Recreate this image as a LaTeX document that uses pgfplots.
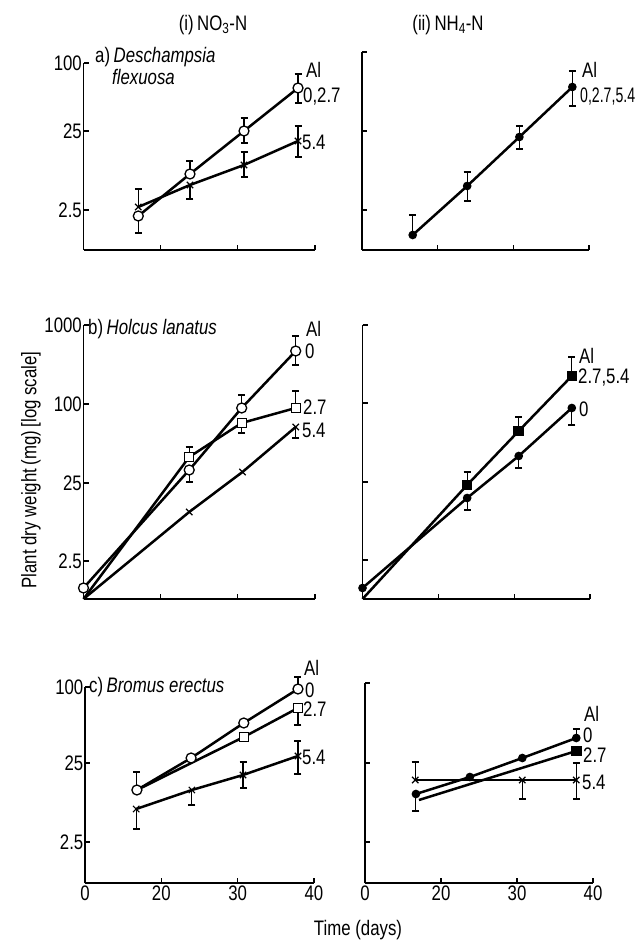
\documentclass[border=0pt]{standalone}
\usepackage{fontspec}
\setmainfont{Liberation Sans}[FakeStretch=0.8]
\usepackage{pgfplots}
\pgfplotsset{compat=1.18}
\pgfplotsset{
  panel/.style={
    scale only axis, clip=false, anchor=south west,
    axis x line*=bottom, axis y line*=left,
    axis line style={line width=1.3pt, -},
    tick align=inside, major tick length=5pt,
    tick style={line width=1.1pt, black},
    xmin=0, xmax=3, ymin=0,
    xtick={0,1,2,3}, xticklabels={}, yticklabels={},
    yticklabel style={inner sep=1.5pt},
    xticklabel style={inner sep=3pt},
  },
  ser/.style={black, line width=2.5pt},
  mO/.style={mark=*, mark size=5pt, mark options={fill=white, draw=black, line width=1.3pt}},
  mS/.style={mark=square*, mark size=4.5pt, mark options={fill=white, draw=black, line width=1.3pt}},
  mX/.style={mark=x, mark size=4.5pt, mark options={line width=1.2pt}},
  mD/.style={mark=*, mark size=3pt, mark options={fill=black}},
  mQ/.style={mark=square*, mark size=4pt, mark options={fill=black}},
  eb/.style={forget plot, draw=none, mark=none,
    error bars/y dir=#1, error bars/y explicit,
    error bars/error bar style={line width=1.1pt, black, solid},
    error bars/error mark options={line width=1.1pt, mark size=3.5pt, rotate=90}},
}
\begin{document}
\fontsize{21}{25}\selectfont
\begin{tikzpicture}[font=\fontsize{21}{25}\selectfont]
\path[use as bounding box] (0,0) rectangle (642pt,941pt);

% ---------- a) left: NO3 ----------
\begin{axis}[panel, at={(83.5pt,691pt)}, width=231.5pt, height=187pt, ymax=187,
  ytick={40,119,187}, yticklabels={2.5,25,100}]
\addplot[eb=plus] coordinates {(1.38,76) +- (0,13) (2.08,119) +- (0,13) (2.78,162) +- (0,14)
  (0.71,43) +- (0,18) (2.08,85) +- (0,13) (2.78,109) +- (0,15)};
\addplot[eb=minus] coordinates {(0.71,34) +- (0,17) (2.08,119) +- (0,12) (2.78,162) +- (0,15)
  (1.38,65) +- (0,14) (2.08,85) +- (0,12) (2.78,109) +- (0,16)};
\addplot[ser, mX] coordinates {(0.71,43) (1.38,65) (2.08,85) (2.78,109)};
\addplot[ser, mO] coordinates {(0.71,34) (1.38,76) (2.08,119) (2.78,162)};
\end{axis}

% ---------- a) right: NH4 ----------
\begin{axis}[panel, at={(362pt,691pt)}, width=227pt, height=198pt, ymax=198,
  ytick={40,119,198}]
\addplot[eb=plus] coordinates {(0.67,15) +- (0,20) (1.39,64) +- (0,14) (2.08,113) +- (0,11) (2.78,163) +- (0,16)};
\addplot[eb=minus] coordinates {(1.39,64) +- (0,15) (2.08,113) +- (0,12) (2.78,163) +- (0,19)};
\addplot[ser, mD] coordinates {(0.67,15) (1.39,64) (2.08,113) (2.78,163)};
\end{axis}

% ---------- b) left ----------
\begin{axis}[panel, at={(83.5pt,342pt)}, width=231.5pt, height=274pt, ymax=274,
  ytick={38,116,195,274}, yticklabels={2.5,25,100,1000}]
\addplot[eb=plus] coordinates {(2.05,191) +- (0,13) (2.75,248) +- (0,15)
  (1.37,142) +- (0,10) (2.75,191) +- (0,17)};
\addplot[eb=minus] coordinates {(1.37,129) +- (0,12) (2.75,248) +- (0,14)
  (2.05,176) +- (0,10) (2.75,172) +- (0,11)};
\addplot[ser, mX, mark indices={2,3,4}] coordinates {(0,0) (1.37,87) (2.06,127) (2.75,172)};
\addplot[ser, mS, mark indices={2,3,4}] coordinates {(0,0) (1.37,142) (2.05,176) (2.75,191)};
\addplot[ser, mO] coordinates {(0,11) (1.37,129) (2.05,191) (2.75,248)};
\end{axis}

% ---------- b) right ----------
\begin{axis}[panel, at={(362.5pt,342pt)}, width=227.5pt, height=274pt, ymax=274,
  ytick={39,117,196,274}]
\addplot[eb=plus] coordinates {(1.38,114) +- (0,13) (2.06,168) +- (0,14) (2.76,223) +- (0,19)};
\addplot[eb=minus] coordinates {(1.38,101) +- (0,12) (2.06,143) +- (0,12) (2.76,191) +- (0,17)};
\addplot[ser, mD] coordinates {(0,11) (1.38,101) (2.06,143) (2.76,191)};
\addplot[ser, mQ, mark indices={2,3,4}] coordinates {(0,0) (1.38,114) (2.06,168) (2.76,223)};
\end{axis}

% ---------- c) left ----------
\begin{axis}[panel, at={(85pt,58pt)}, width=229pt, height=196pt, ymax=196,
  ytick={41,120,196}, yticklabels={2.5,25,100}, xticklabels={0,20,30,40}]
\addplot[eb=plus] coordinates {(0.68,93) +- (0,18) (2.79,194) +- (0,12)
  (2.07,108) +- (0,13) (2.79,127) +- (0,15)};
\addplot[eb=minus] coordinates {(2.79,175) +- (0,17)
  (0.67,74) +- (0,20) (1.40,93) +- (0,15) (2.07,108) +- (0,13) (2.79,127) +- (0,18)};
\addplot[ser, mX] coordinates {(0.67,74) (1.40,93) (2.07,108) (2.79,127)};
\addplot[ser, mS, mark indices={2,3}] coordinates {(0.68,93) (2.08,146) (2.79,175)};
\addplot[ser, mO] coordinates {(0.68,93) (1.39,125) (2.08,160) (2.79,194)};
\end{axis}

% ---------- c) right ----------
\begin{axis}[panel, at={(365pt,58pt)}, width=228pt, height=200pt, ymax=200,
  ytick={41,120,200}, xticklabels={0,20,30,40}]
\addplot[eb=plus] coordinates {(2.78,145) +- (0,9) (0.66,103) +- (0,18) (2.78,103) +- (0,17)};
\addplot[eb=minus] coordinates {(0.67,89) +- (0,17) (2.07,103) +- (0,19) (2.78,103) +- (0,19)};
\addplot[ser, mX] coordinates {(0.66,103) (2.07,103) (2.78,103)};
\addplot[ser, mQ, mark indices={2}] coordinates {(0.71,83) (2.78,132)};
\addplot[ser, mD] coordinates {(0.67,89) (1.38,106) (2.07,125) (2.78,145)};
\end{axis}

% ---------- texts ----------
\node at (213pt,916pt) {(i)\,NO\textsubscript{3}-N};
\node at (448pt,916pt) {(ii)\,NH\textsubscript{4}-N};
\node at (31pt,471pt) [rotate=90] {Plant dry weight\,(mg)\,[log scale]};
\node at (358pt,11pt) {Time (days)};

\begin{scope}[every node/.style={anchor=west, inner sep=0pt}]
\node at (95pt,884pt) {a)\,\textit{Deschampsia}};
\node at (112pt,864pt) {\textit{flexuosa}};
\node at (306pt,871pt) {Al};
\node at (303pt,844pt) {0,2.7};
\node at (302pt,799pt) {5.4};
\node at (582pt,871pt) {Al};
\node at (580pt,844pt) {\scalebox{0.84}[1]{0,2.7,5.4}};

\node at (88pt,612pt) {b)\,\textit{Holcus lanatus}};
\node at (306pt,612pt) {Al};
\node at (305pt,590pt) {0};
\node at (303pt,534pt) {2.7};
\node at (302pt,511pt) {5.4};
\node at (579pt,585pt) {Al};
\node at (578pt,563pt) {2.7,5.4};
\node at (579pt,532pt) {0};

\node at (89pt,254pt) {c)\,\textit{Bromus erectus}};
\node at (304pt,273pt) {Al};
\node at (305pt,251pt) {0};
\node at (303pt,232pt) {2.7};
\node at (302pt,184pt) {5.4};
\node at (584pt,227pt) {Al};
\node at (583pt,206pt) {0};
\node at (583pt,186pt) {2.7};
\node at (582pt,159pt) {5.4};
\end{scope}
\end{tikzpicture}
\end{document}
